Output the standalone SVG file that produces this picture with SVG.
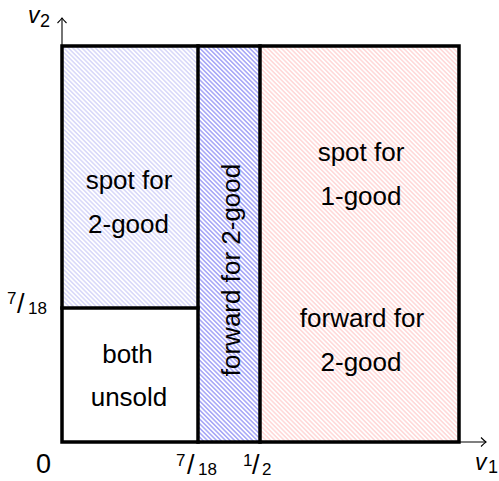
<svg xmlns="http://www.w3.org/2000/svg" width="499" height="481" viewBox="0 0 499 481">
<style>
.t{font-family:"Liberation Sans",Arial,sans-serif;fill:#000}
.lbl{font-size:26px;text-anchor:middle}
.tick{font-size:17px}
.sl{font-size:27px}
.frame{fill:none;stroke:#000;stroke-width:3.5;stroke-linecap:square}
.axis{fill:none;stroke:#000;stroke-width:1.1}
</style>
<defs>
<pattern id="hLightBlue" patternUnits="userSpaceOnUse" width="10" height="3.2" patternTransform="rotate(45)">
<rect width="10" height="3.2" fill="#fff"/>
<line x1="0" y1="1.6" x2="10" y2="1.6" stroke="#c4c4f6" stroke-width="1"/>
</pattern>
<pattern id="hBlue" patternUnits="userSpaceOnUse" width="10" height="3.2" patternTransform="rotate(45)">
<rect width="10" height="3.2" fill="#fff"/>
<line x1="0" y1="1.6" x2="10" y2="1.6" stroke="#8484f4" stroke-width="1.1"/>
</pattern>
<pattern id="hRed" patternUnits="userSpaceOnUse" width="10" height="3.2" patternTransform="rotate(45)">
<rect width="10" height="3.2" fill="#fff"/>
<line x1="0" y1="1.6" x2="10" y2="1.6" stroke="#ffc4c4" stroke-width="1"/>
</pattern>
<marker id="tip" markerUnits="userSpaceOnUse" markerWidth="12" markerHeight="12" viewBox="-6 -6 12 12" refX="0" refY="0" orient="auto">
<path d="M -5,-4.5 Q -1.5,-1 0,0 Q -1.5,1 -5,4.5" fill="none" stroke="#000" stroke-width="1.1"/>
</marker>
</defs>

<g id="axes" class="connectors">
<path class="axis" d="M 62,442 L 62,18" marker-end="url(#tip)"/>
<path class="axis" d="M 62,442 L 486,442" marker-end="url(#tip)"/>
</g>

<g id="region-spot-2good">
<rect x="62" y="46" width="136" height="262" fill="url(#hLightBlue)"/>
<text class="t lbl" x="129" y="189">spot for</text>
<text class="t lbl" x="128.5" y="233">2-good</text>
</g>

<g id="region-both-unsold">
<rect x="62" y="308" width="136" height="134" fill="#fff"/>
<text class="t lbl" x="127.5" y="363">both</text>
<text class="t lbl" x="129" y="406">unsold</text>
</g>

<g id="region-forward-2good">
<rect x="198" y="46" width="62" height="396" fill="url(#hBlue)"/>
<text class="t lbl" transform="translate(240,270) rotate(-90)" x="0" y="0">forward for 2-good</text>
</g>

<g id="region-right">
<rect x="260" y="46" width="199" height="396" fill="url(#hRed)"/>
<text class="t lbl" x="361" y="161">spot for</text>
<text class="t lbl" x="361" y="205">1-good</text>
<text class="t lbl" x="362" y="327">forward for</text>
<text class="t lbl" x="361" y="371">2-good</text>
</g>

<g id="frame">
<rect class="frame" x="62" y="46" width="397" height="396"/>
<line class="frame" x1="198" y1="46" x2="198" y2="442"/>
<line class="frame" x1="260" y1="46" x2="260" y2="442"/>
<line class="frame" x1="62" y1="308" x2="198" y2="308"/>
</g>

<g id="labels">
<text class="t" x="28" y="23" font-size="23" font-style="italic">v</text>
<text class="t" x="40" y="27" font-size="18">2</text>
<text class="t" x="475" y="470" font-size="23" font-style="italic">v</text>
<text class="t" x="488" y="473" font-size="18">1</text>
<text class="t" x="43.5" y="473" font-size="27" text-anchor="middle">0</text>
<text class="t tick" x="7" y="304">7</text>
<text class="t sl" x="17" y="313">/</text>
<text class="t tick" x="28" y="314">18</text>
<text class="t tick" x="176" y="466">7</text>
<text class="t sl" x="187" y="474">/</text>
<text class="t tick" x="198" y="475">18</text>
<text class="t tick" x="243" y="466">1</text>
<text class="t sl" x="252" y="474">/</text>
<text class="t tick" x="262" y="475">2</text>
</g>
</svg>
